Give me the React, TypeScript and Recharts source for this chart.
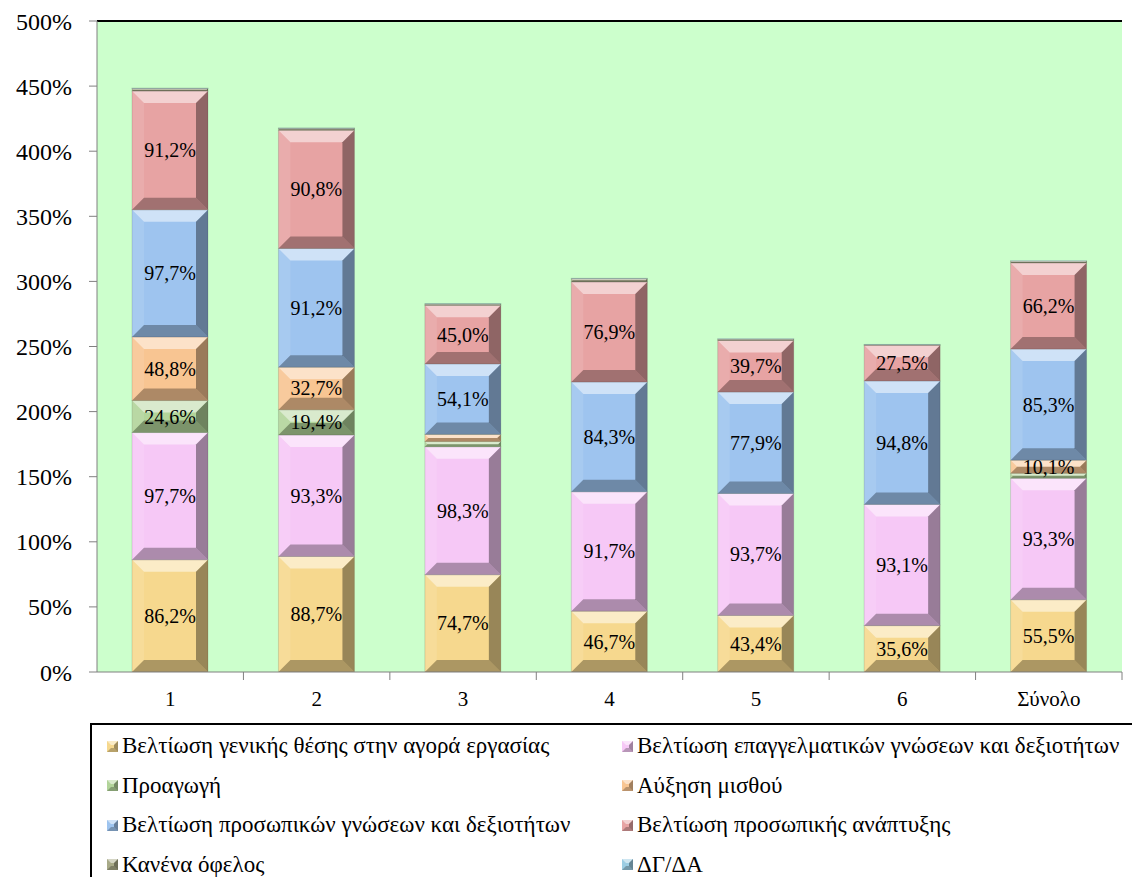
import React from 'react';
import { BarChart, Bar, XAxis, YAxis, CartesianGrid, ReferenceLine, LabelList } from 'recharts';

const categories = ['1', '2', '3', '4', '5', '6', 'Σύνολο'];
const generalPosition = [86.2, 88.7, 74.7, 46.7, 43.4, 35.6, 55.5];
const professionalSkills = [97.7, 93.3, 98.3, 91.7, 93.7, 93.1, 93.3];
const promotion = [24.6, 19.4, 4.0, 0, 0, 0, 3.8];
const salaryIncrease = [48.8, 32.7, 5.5, 0, 0, 0, 10.1];
const personalSkills = [97.7, 91.2, 54.1, 84.3, 77.9, 94.8, 85.3];
const personalDevelopment = [91.2, 90.8, 45.0, 76.9, 39.7, 27.5, 66.2];
const noBenefit = [2.0, 1.5, 1.0, 2.5, 1.0, 0.3, 1.4];
const dkNa = [0.3, 0.3, 0.3, 0.3, 0.3, 0.3, 0.3];
const yTicks = [0, 50, 100, 150, 200, 250, 300, 350, 400, 450, 500];

const series = [
  { key: 's1', name: 'Βελτίωση γενικής θέσης στην αγορά εργασίας', values: generalPosition, color: '#F6D88E' },
  { key: 's2', name: 'Βελτίωση επαγγελματικών γνώσεων και δεξιοτήτων', values: professionalSkills, color: '#F6C8F6' },
  { key: 's3', name: 'Προαγωγή', values: promotion, color: '#B2D49A' },
  { key: 's4', name: 'Αύξηση μισθού', values: salaryIncrease, color: '#F8C592' },
  { key: 's5', name: 'Βελτίωση προσωπικών γνώσεων και δεξιοτήτων', values: personalSkills, color: '#9EC4EF' },
  { key: 's6', name: 'Βελτίωση προσωπικής ανάπτυξης', values: personalDevelopment, color: '#E7A3A3' },
  { key: 's7', name: 'Κανένα όφελος', values: noBenefit, color: '#A8AA88' },
  { key: 's8', name: 'ΔΓ/ΔΑ', values: dkNa, color: '#9CCDE3' },
];

const data = categories.map((c, i) => {
  const row: any = { cat: c };
  series.forEach((s) => { row[s.key] = s.values[i]; });
  return row;
});

const FONT = '"Liberation Serif", "Times New Roman", serif';
const CHART_W = 1132;
const MARGIN = { top: 21, right: 10, left: 0, bottom: 165 };
const Y_W = 97;
const BAND = (CHART_W - MARGIN.left - MARGIN.right - Y_W) / categories.length;

const BevelBar = (props: any) => {
  const { x, y, width, height, fill } = props;
  if (!height || height <= 0 || !width) return null;
  const w = width, h = height;
  const d = Math.min(12, h / 2, w / 2);
  return (
    <g>
      <rect x={x} y={y} width={w} height={h} fill={fill} />
      <polygon points={`${x},${y} ${x + w},${y} ${x + w - d},${y + d} ${x + d},${y + d}`} fill="#ffffff" fillOpacity={0.5} />
      <polygon points={`${x},${y} ${x + d},${y + d} ${x + d},${y + h - d} ${x},${y + h}`} fill="#ffffff" fillOpacity={0.1} />
      <polygon points={`${x + w},${y} ${x + w},${y + h} ${x + w - d},${y + h - d} ${x + w - d},${y + d}`} fill="#000000" fillOpacity={0.38} />
      <polygon points={`${x},${y + h} ${x + d},${y + h - d} ${x + w - d},${y + h - d} ${x + w},${y + h}`} fill="#000000" fillOpacity={0.3} />
      <rect x={x} y={y} width={w} height={h} fill="none" stroke="#000" strokeOpacity={0.12} strokeWidth={1} />
    </g>
  );
};

const renderLabel = (props: any) => {
  const { x, y, width, height, value } = props;
  if (value == null || value < 10) return null;
  const txt = Number(value).toFixed(1).replace('.', ',') + '%';
  return (
    <text x={x + width / 2} y={y + height / 2} textAnchor="middle" dominantBaseline="central" fontFamily={FONT} fontSize={20} fill="#000">
      {txt}
    </text>
  );
};

const XTick = (props: any) => {
  const { x, y, payload } = props;
  const axisY = y - 20;
  return (
    <g>
      <line x1={x + BAND / 2} x2={x + BAND / 2} y1={axisY} y2={axisY + 8} stroke="#808080" strokeWidth={1} />
      <text x={x} y={y} dy="0.66em" textAnchor="middle" fontFamily={FONT} fontSize={21} fill="#000">
        {payload.value}
      </text>
    </g>
  );
};

const Legend = () => {
  const items = series;
  return (
    <div style={{ position: 'absolute', left: 90, top: 723, width: 1100, height: 200, border: '2px solid #000', background: '#fff', boxSizing: 'border-box' }}>
      {items.map((s, i) => {
        const col = i % 2;
        const row = Math.floor(i / 2);
        return (
          <div key={s.key} style={{ position: 'absolute', left: col === 0 ? 15 : 530, top: 7 + row * 39.5, height: 28, display: 'flex', alignItems: 'center', fontFamily: FONT, fontSize: 23, color: '#000', whiteSpace: 'nowrap' }}>
            <svg width={11} height={11} style={{ marginRight: 4 }}>
              <rect x={0} y={0} width={11} height={11} fill={s.color} />
              <polygon points="0,0 11,0 7,4 4,4" fill="#fff" fillOpacity={0.5} />
              <polygon points="11,0 11,11 7,7 7,4" fill="#000" fillOpacity={0.35} />
              <polygon points="0,11 4,7 7,7 11,11" fill="#000" fillOpacity={0.25} />
            </svg>
            <span>{s.name}</span>
          </div>
        );
      })}
    </div>
  );
};

export default function App() {
  return (
    <div style={{ position: 'absolute', left: 0, top: 0, width: 1132, height: 877, background: '#fff', overflow: 'hidden' }}>
      <BarChart width={CHART_W} height={877} data={data} margin={MARGIN} barSize={76}>
        <CartesianGrid horizontal={false} vertical={false} fill="#CCFFCC" />
        <XAxis
          dataKey="cat"
          height={40}
          axisLine={{ stroke: '#808080' }}
          tickLine={false}
          tickSize={8}
          tickMargin={12}
          tick={<XTick />}
          interval={0}
        />
        <YAxis
          width={Y_W}
          domain={[0, 500]}
          ticks={yTicks}
          allowDataOverflow
          axisLine={{ stroke: '#808080' }}
          tickLine={{ stroke: '#808080' }}
          tickSize={8}
          tickMargin={17}
          tickFormatter={(v: number) => `${v}%`}
          tick={{ fontFamily: FONT, fontSize: 24, fill: '#000' }}
        />
        <ReferenceLine y={500} stroke="#000" strokeWidth={2} />
        {series.map((s) => (
          <Bar key={s.key} dataKey={s.key} name={s.name} stackId="a" fill={s.color} shape={<BevelBar />} isAnimationActive={false}>
            {s.key <= 's6' ? <LabelList dataKey={s.key} content={renderLabel} /> : null}
          </Bar>
        ))}
      </BarChart>
      <Legend />
    </div>
  );
}
